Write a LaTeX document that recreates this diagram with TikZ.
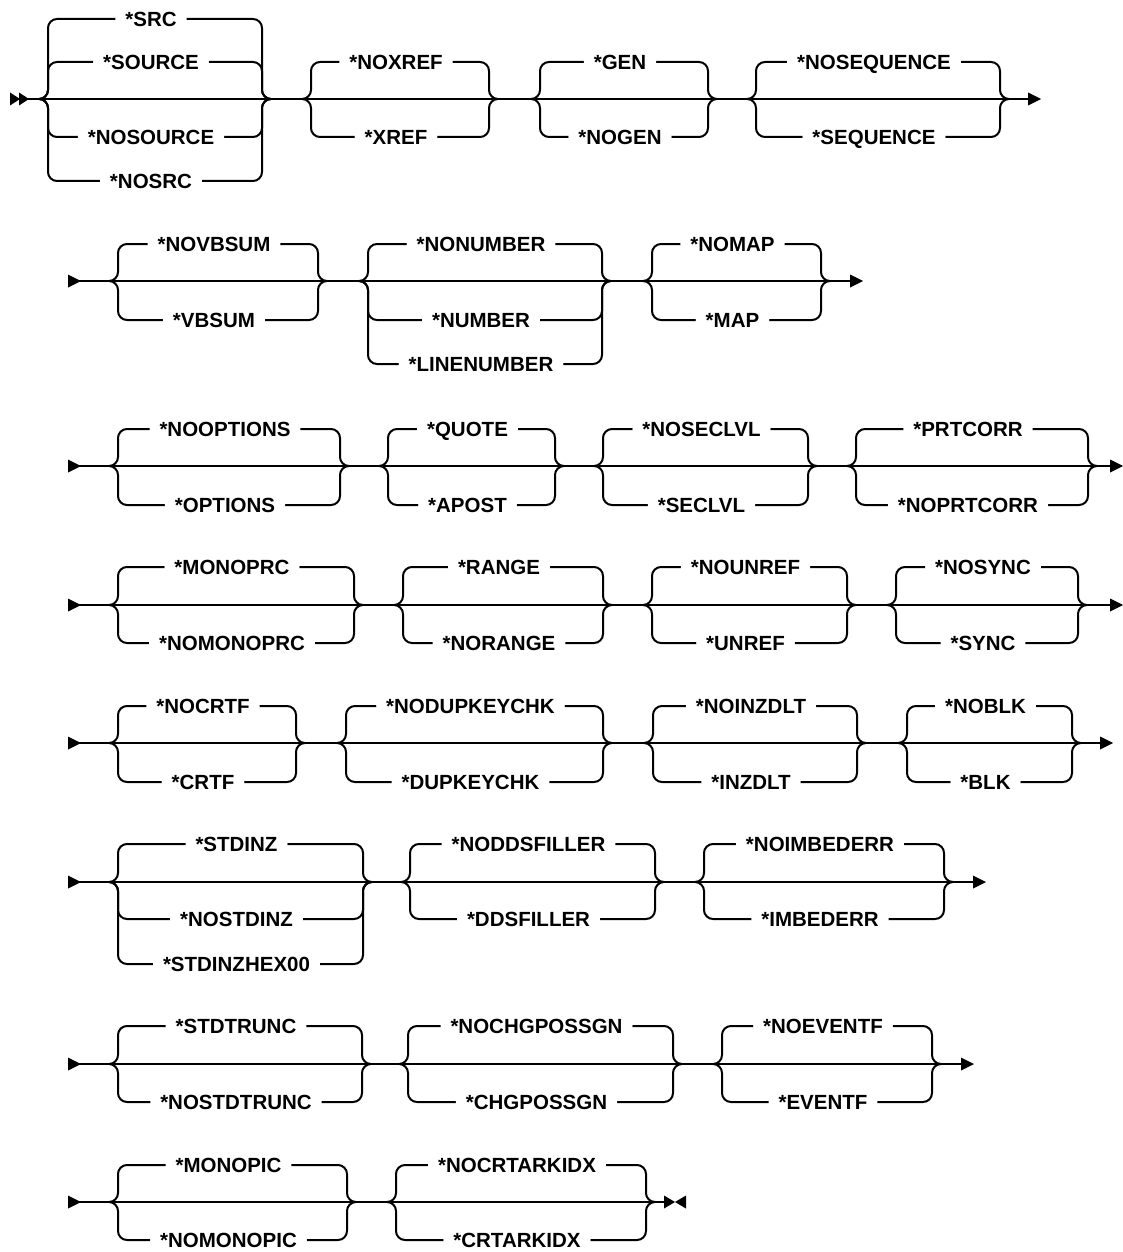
\documentclass[tikz,border=0pt]{standalone}
\usepackage{fontspec}
\setmainfont{Liberation Sans}
\usepackage{tikz}
\usetikzlibrary{positioning}

% one choice group: name, left x, right x, main line y, branches y/label
\newcommand{\choicegrp}[5]{%
  \foreach \by/\bt [count=\bi] in {#5}{%
    \draw[rail] (#2-9,#4) -- (#2,#4) -- (#2,\by)
      -- node[opt] (#1-\bi) {\bt} (#3,\by) -- (#3,#4) -- (#3+9,#4);
  }%
}

\begin{document}
\begin{tikzpicture}[x=1pt,y=-1pt,
  rail/.style={line width=2pt,rounded corners=9pt},
  opt/.style={fill=white,inner xsep=10pt,inner ysep=2pt,xshift=-4pt,
    text height=14.5pt,text depth=0pt,font=\bfseries\fontsize{20.5}{20.5}\selectfont}]
  \useasboundingbox (0,0) rectangle (1122,1252);

  % main lines
  \foreach \r/\xs/\m/\xe in {1/28/99/1028, 2/68/281/850, 3/68/466/1110, 4/68/605/1110,
      5/68/743/1100, 6/68/882/973, 7/68/1064/961, 8/68/1202/665}{
    \coordinate (r\r s) at (\xs,\m);
    \coordinate (r\r e) at (\xe,\m);
    \draw[rail] (r\r s) -- (r\r e);
  }

  % start and end marks
  \fill (10,92.5) -- (20,99) -- (10,105.5) -- cycle;
  \fill (19,92.5) -- (29,99) -- (19,105.5) -- cycle;
  \foreach \m in {281,466,605,743,882,1064,1202}
    \fill (68,\m-6.5) -- (81,\m) -- (68,\m+6.5) -- cycle;
  \foreach \xe/\m in {1028/99, 850/281, 1110/466, 1110/605, 1100/743, 973/882, 961/1064}
    \fill (\xe,\m-6.5) -- (\xe+13,\m) -- (\xe,\m+6.5) -- cycle;
  \fill (664,1195.5) -- (675,1202) -- (664,1208.5) -- cycle;
  \fill (686,1195.5) -- (675,1202) -- (686,1208.5) -- cycle;

  % row 1
  \choicegrp{g11}{48}{262}{99}{19/*SRC, 62/*SOURCE, 137/*NOSOURCE, 181/*NOSRC}
  \choicegrp{g12}{311}{489}{99}{62/*NOXREF, 137/*XREF}
  \choicegrp{g13}{540}{708}{99}{62/*GEN, 137/*NOGEN}
  \choicegrp{g14}{756}{1000}{99}{62/*NOSEQUENCE, 137/*SEQUENCE}

  % row 2
  \choicegrp{g21}{118}{318}{281}{244/*NOVBSUM, 320/*VBSUM}
  \choicegrp{g22}{368}{602}{281}{244/*NONUMBER, 320/*NUMBER, 364/*LINENUMBER}
  \choicegrp{g23}{652}{821}{281}{244/*NOMAP, 320/*MAP}

  % row 3
  \choicegrp{g31}{118}{340}{466}{429/*NOOPTIONS, 505/*OPTIONS}
  \choicegrp{g32}{388}{555}{466}{429/*QUOTE, 505/*APOST}
  \choicegrp{g33}{603}{808}{466}{429/*NOSECLVL, 505/*SECLVL}
  \choicegrp{g34}{856}{1088}{466}{429/*PRTCORR, 505/*NOPRTCORR}

  % row 4
  \choicegrp{g41}{118}{354}{605}{567/*MONOPRC, 643/*NOMONOPRC}
  \choicegrp{g42}{403}{603}{605}{567/*RANGE, 643/*NORANGE}
  \choicegrp{g43}{652}{847}{605}{567/*NOUNREF, 643/*UNREF}
  \choicegrp{g44}{896}{1078}{605}{567/*NOSYNC, 643/*SYNC}

  % row 5
  \choicegrp{g51}{118}{296}{743}{706/*NOCRTF, 782/*CRTF}
  \choicegrp{g52}{346}{603}{743}{706/*NODUPKEYCHK, 782/*DUPKEYCHK}
  \choicegrp{g53}{653}{857}{743}{706/*NOINZDLT, 782/*INZDLT}
  \choicegrp{g54}{907}{1072}{743}{706/*NOBLK, 782/*BLK}

  % row 6
  \choicegrp{g61}{118}{363}{882}{844/*STDINZ, 919/*NOSTDINZ, 964/*STDINZHEX00}
  \choicegrp{g62}{410}{655}{882}{844/*NODDSFILLER, 919/*DDSFILLER}
  \choicegrp{g63}{704}{944}{882}{844/*NOIMBEDERR, 919/*IMBEDERR}

  % row 7
  \choicegrp{g71}{118}{362}{1064}{1026/*STDTRUNC, 1102/*NOSTDTRUNC}
  \choicegrp{g72}{408}{673}{1064}{1026/*NOCHGPOSSGN, 1102/*CHGPOSSGN}
  \choicegrp{g73}{722}{932}{1064}{1026/*NOEVENTF, 1102/*EVENTF}

  % row 8
  \choicegrp{g81}{118}{347}{1202}{1165/*MONOPIC, 1240/*NOMONOPIC}
  \choicegrp{g82}{396}{646}{1202}{1165/*NOCRTARKIDX, 1240/*CRTARKIDX}
\end{tikzpicture}
\end{document}
